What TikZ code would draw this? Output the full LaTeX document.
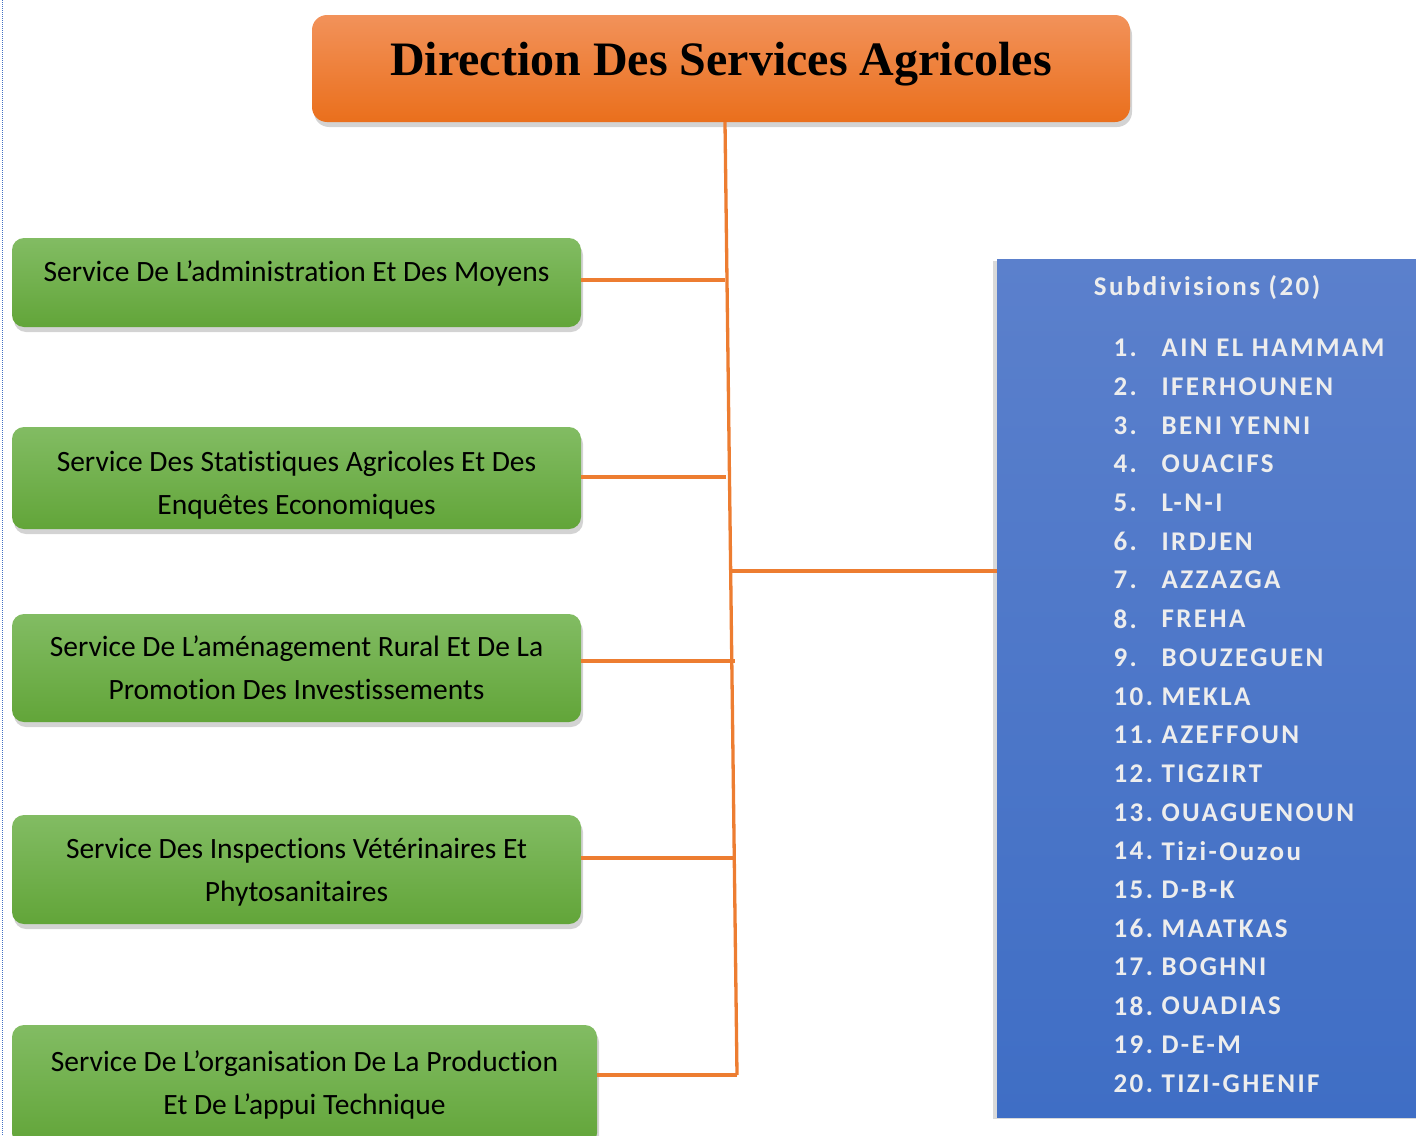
\documentclass[tikz,border=0pt]{standalone}
\usepackage{fontspec}
\setmainfont{Carlito}[Ligatures=NoCommon]
\newfontfamily\titlefont{Liberation Serif}
\newfontfamily\listfont[LetterSpace=9]{Carlito}
\usetikzlibrary{shadows}
\definecolor{linkorange}{HTML}{ED7D31}
\definecolor{dirtop}{HTML}{F2925A}
\definecolor{dirbot}{HTML}{EA6F1C}
\definecolor{greentop}{HTML}{82BC63}
\definecolor{greenbot}{HTML}{62A539}
\definecolor{bluetop}{HTML}{5B80CC}
\definecolor{bluebot}{HTML}{3F6EC5}
\definecolor{listtext}{HTML}{EDEDED}
\definecolor{pageline}{HTML}{4472C4}

\begin{document}
\begin{tikzpicture}[
  x=1pt, y=-1pt,
  every node/.style={font=\fontsize{29.5}{43}\selectfont},
  service/.style={rounded corners=12pt, top color=greentop, bottom color=greenbot,
    draw=none, align=center, inner sep=0pt,
    drop shadow={shadow xshift=2pt, shadow yshift=-5pt, opacity=0.35}},
  listitem/.style={text=listtext, anchor=west, font=\listfont\bfseries\fontsize{27}{27}\selectfont},
  link/.style={linkorange, line width=3.3pt},
]
\useasboundingbox (0,0) rectangle (1416,1135);

% page border of the source
\draw[pageline, densely dotted, line width=1pt] (2,0) -- (2,1135);

% Direction
\node[rounded corners=15pt, top color=dirtop, bottom color=dirbot, inner sep=0pt,
  minimum width=818pt, minimum height=107pt, text depth=20pt,
  drop shadow={shadow xshift=2pt, shadow yshift=-5pt, opacity=0.35},
  font=\titlefont\bfseries\fontsize{48}{48}\selectfont]
  (dir) at (721,68.5) {Direction Des Services Agricoles};

% Services
\node[service, minimum width=569pt, minimum height=89pt, text depth=22pt] (svc1) at (296.5,282.5)
  {Service De L’administration Et Des Moyens};
\node[service, minimum width=569pt, minimum height=102pt, text height=78pt] (svc2) at (296.5,478)
  {Service Des Statistiques Agricoles Et Des\\Enquêtes Economiques};
\node[service, minimum width=569pt, minimum height=108pt] (svc3) at (296.5,668)
  {Service De L’aménagement Rural Et De La\\Promotion Des Investissements};
\node[service, minimum width=569pt, minimum height=109pt, text height=69pt] (svc4) at (296.5,869.5)
  {Service Des Inspections Vétérinaires Et\\Phytosanitaires};
\node[service, minimum width=585pt, minimum height=120pt] (svc5) at (304.5,1085)
  {Service De L’organisation De La Production\\Et De L’appui Technique};

% Subdivisions
\node[rectangle, top color=bluetop, bottom color=bluebot, minimum width=440pt,
  minimum height=858pt, inner sep=0pt, anchor=north west,
  drop shadow={shadow xshift=-4pt, shadow yshift=-2pt, opacity=0.3}]
  (subdiv) at (997,259) {};
\node[listitem, anchor=center] (subtitle) at (1207,288) {Subdivisions (20)};
\foreach \name [count=\i] in {AIN EL HAMMAM, IFERHOUNEN, BENI YENNI, OUACIFS, L-N-I,
    IRDJEN, AZZAZGA, FREHA, BOUZEGUEN, MEKLA, AZEFFOUN, TIGZIRT, OUAGUENOUN,
    Tizi-Ouzou, D-B-K, MAATKAS, BOGHNI, OUADIAS, D-E-M, TIZI-GHENIF} {
  \node[listitem] (num\i) at (1110,{348+38.7*(\i-1)}) {\i.};
  \node[listitem] (item\i) at (1158,{348+38.7*(\i-1)}) {\name};
}

% Connectors
\coordinate (trunk) at (737,1075);
\coordinate (j1) at (725,280);
\coordinate (j2) at (726,477);
\coordinate (j3) at (735,661);
\coordinate (j4) at (735,858);
\coordinate (j6) at (729,571);
\draw[link] (dir.south -| 725,0) -- (trunk);
\draw[link] (j1 -| svc1.east) -- (j1);
\draw[link] (j2 -| svc2.east) -- (j2);
\draw[link] (j3 -| svc3.east) -- (j3);
\draw[link] (j4 -| svc4.east) -- (j4);
\draw[link] (trunk -| svc5.east) -- (trunk);
\draw[link] (j6) -- (j6 -| subdiv.west);
\end{tikzpicture}
\end{document}
